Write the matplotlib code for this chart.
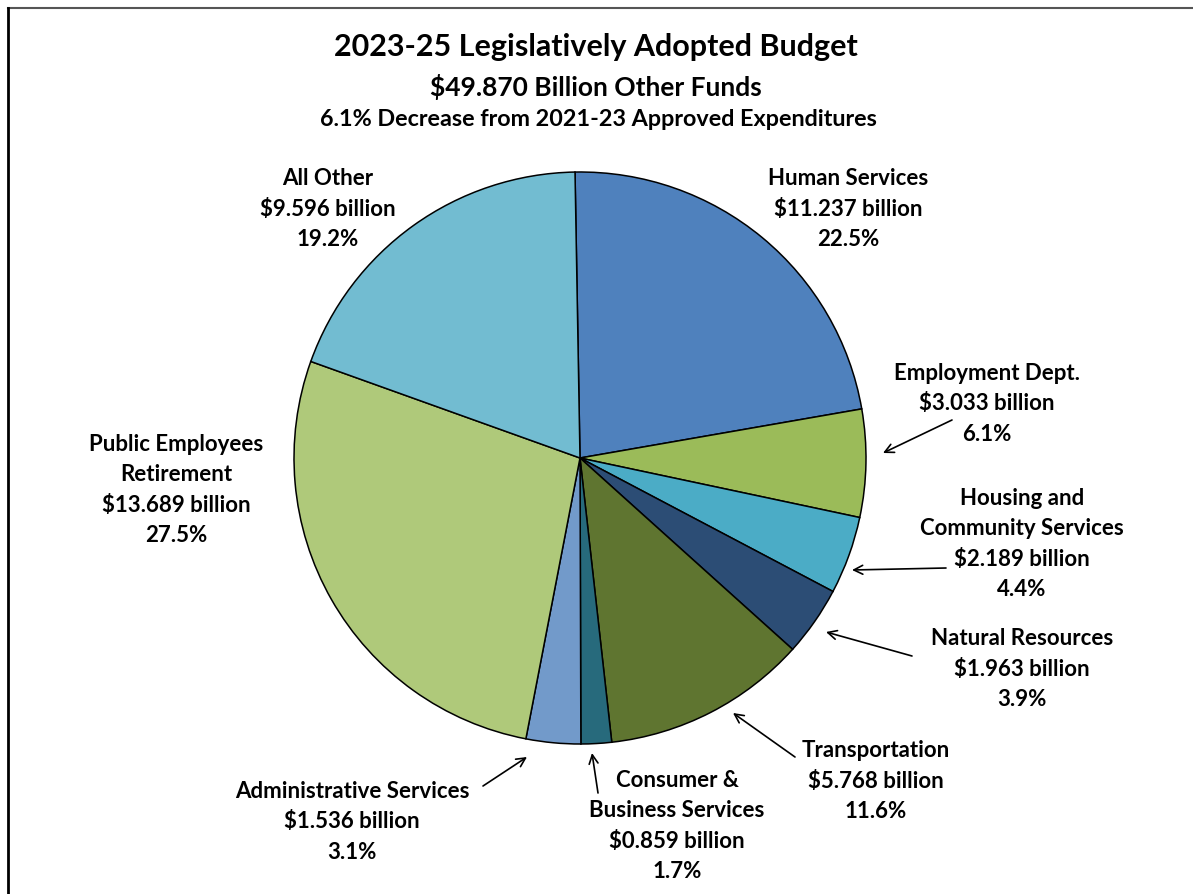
import matplotlib
matplotlib.use("Agg")
import matplotlib.pyplot as plt
from matplotlib.lines import Line2D

plt.rcParams['font.family'] = ['Lato', 'DejaVu Sans']

W, H = 1193, 894

categories = ["Human Services", "Employment Dept.", "Housing and\nCommunity Services",
              "Natural Resources", "Transportation", "Consumer &\nBusiness Services",
              "Administrative Services", "Public Employees\nRetirement", "All Other"]
amounts = [11.237, 3.033, 2.189, 1.963, 5.768, 0.859, 1.536, 13.689, 9.596]
percents = ["22.5%", "6.1%", "4.4%", "3.9%", "11.6%", "1.7%", "3.1%", "27.5%", "19.2%"]
colors = ["#4F81BD", "#9BBB59", "#4BACC6", "#2C4D75", "#5F7530",
          "#276A7C", "#729ACA", "#AFC97A", "#72BCD1"]

# label placement in pixel coords (x, y from top), arrow start and tip (None = no arrow)
label_pos = [(848, 209), (987, 404), (1022, 544), (1022, 669), (876, 781),
             (677, 826), (352, 822), (176, 490), (328, 209)]
arrows = [None, ((952, 420), (883, 453)), ((946, 568), (852, 570)),
          ((912, 656), (826, 632)), ((795, 757), (733, 713)),
          ((598, 793), (592, 753)), ((483, 786), (527, 757)), None, None]

fig = plt.figure(figsize=(W / 100, H / 100), dpi=100)
ax = fig.add_axes([0, 0, 1, 1])

ax.pie(amounts, colors=colors, startangle=91, counterclock=False,
       center=(580, H - 458), radius=286,
       wedgeprops=dict(edgecolor="black", linewidth=1.1))
ax.set_xlim(0, W)
ax.set_ylim(0, H)
ax.set_aspect("equal")
ax.axis("off")

for name, amt, pct, (lx, ly) in zip(categories, amounts, percents, label_pos):
    txt = f"{name}\n${amt:.3f} billion\n{pct}"
    ax.text(lx, H - ly, txt, ha="center", va="center", fontsize=16,
            fontweight="bold", linespacing=1.55)

for arr in arrows:
    if arr is None:
        continue
    (sx, sy), (tx, ty) = arr
    ax.annotate("", xy=(tx, H - ty), xytext=(sx, H - sy),
                arrowprops=dict(arrowstyle="->", color="black", lw=1.2,
                                mutation_scale=16, shrinkA=0, shrinkB=0))

ax.text(596, H - 47, "2023-25 Legislatively Adopted Budget", ha="center", va="center",
        fontsize=22, fontweight="bold")
ax.text(596, H - 87, "$49.870 Billion Other Funds", ha="center", va="center",
        fontsize=19, fontweight="bold")
ax.text(598, H - 120, "6.1% Decrease from 2021-23 Approved Expenditures", ha="center",
        va="center", fontsize=16.8, fontweight="bold")

# frame lines along the top and left
fig.add_artist(Line2D([8 / W, 1], [1 - 8 / H, 1 - 8 / H], color="#555555", lw=1.5))
fig.add_artist(Line2D([8 / W, 8 / W], [0, 1 - 8 / H], color="black", lw=2))

fig.savefig("out.png", dpi=100)
